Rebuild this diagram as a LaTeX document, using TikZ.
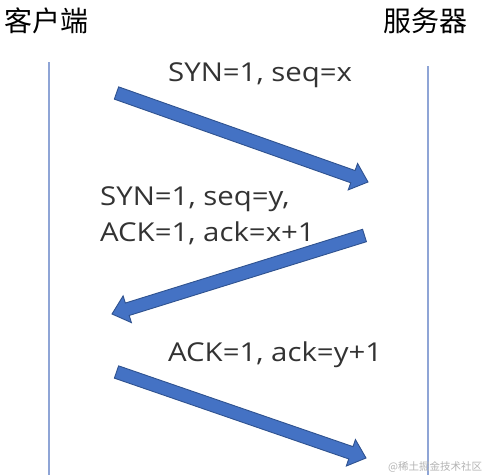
\documentclass[tikz,border=0pt]{standalone}
\usepackage{fontspec}
\setmainfont{Noto Sans CJK SC}
\newfontfamily\latinfont[FakeStretch=1.13]{Open Sans}
\usetikzlibrary{calc}
\definecolor{arrowfill}{HTML}{4472C4}
\definecolor{arrowedge}{HTML}{2F528F}
\definecolor{lifeline}{HTML}{8FA5D6}
\definecolor{wmark}{HTML}{B4B4B4}
\tikzset{
  arrowbody/.style={fill=arrowfill,draw=arrowedge,line width=0.9pt,line join=miter},
  lifelinestyle/.style={draw=lifeline,line width=1.2pt},
  title/.style={inner sep=0pt,font=\fontsize{28}{32}\selectfont,anchor=base west},
  msg/.style={inner sep=0pt,font=\latinfont\fontsize{26}{30}\selectfont,anchor=base west,text=black!80},
  watermark/.style={inner sep=0pt,font=\fontsize{10.5}{12}\selectfont,anchor=base west,text=wmark}
}
% block arrow from coordinate #1 (tail) to coordinate #2 (tip)
\newcommand{\blockarrow}[2]{%
  \coordinate (#1hb) at ($(#2)!16pt!(#1)$);
  \draw[arrowbody]
    ($(#1)!6.5pt!90:(#2)$) --
    ($(#1hb)!6.5pt!-90:(#1)$) --
    ($(#1hb)!14pt!-90:(#1)$) --
    (#2) --
    ($(#1hb)!14pt!90:(#1)$) --
    ($(#1hb)!6.5pt!90:(#1)$) --
    ($(#1)!6.5pt!-90:(#2)$) -- cycle;
}
\begin{document}
\begin{tikzpicture}[x=1pt,y=-1pt]
\useasboundingbox[fill=white] (0,0) rectangle (483,475);
% titles
\node[title] (client) at (4,31) {客户端};
\node[title] (server) at (383,31) {服务器};
% lifelines
\coordinate (ctop) at (49,62);
\coordinate (cbot) at (49,475);
\coordinate (stop) at (428,66);
\coordinate (sbot) at (428,475);
\draw[lifelinestyle] (ctop) -- (cbot);
\draw[lifelinestyle] (stop) -- (sbot);
% arrows
\coordinate (a1t) at (116.5,93);
\coordinate (a1h) at (368,182);
\coordinate (a2t) at (364.5,235.5);
\coordinate (a2h) at (112,314);
\coordinate (a3t) at (116.5,372);
\coordinate (a3h) at (366,458);
\blockarrow{a1t}{a1h}
\blockarrow{a2t}{a2h}
\blockarrow{a3t}{a3h}
% labels
\node[msg] (m1) at (168,81) {SYN=1, seq=x};
\node[msg] (m2a) at (100,205) {SYN=1, seq=y,};
\node[msg] (m2b) at (100,241) {ACK=1, ack=x+1};
\node[msg] (m3) at (168,361) {ACK=1, ack=y+1};
% watermark
\node[watermark] (wm) at (388,470) {@稀土掘金技术社区};
\end{tikzpicture}
\end{document}
